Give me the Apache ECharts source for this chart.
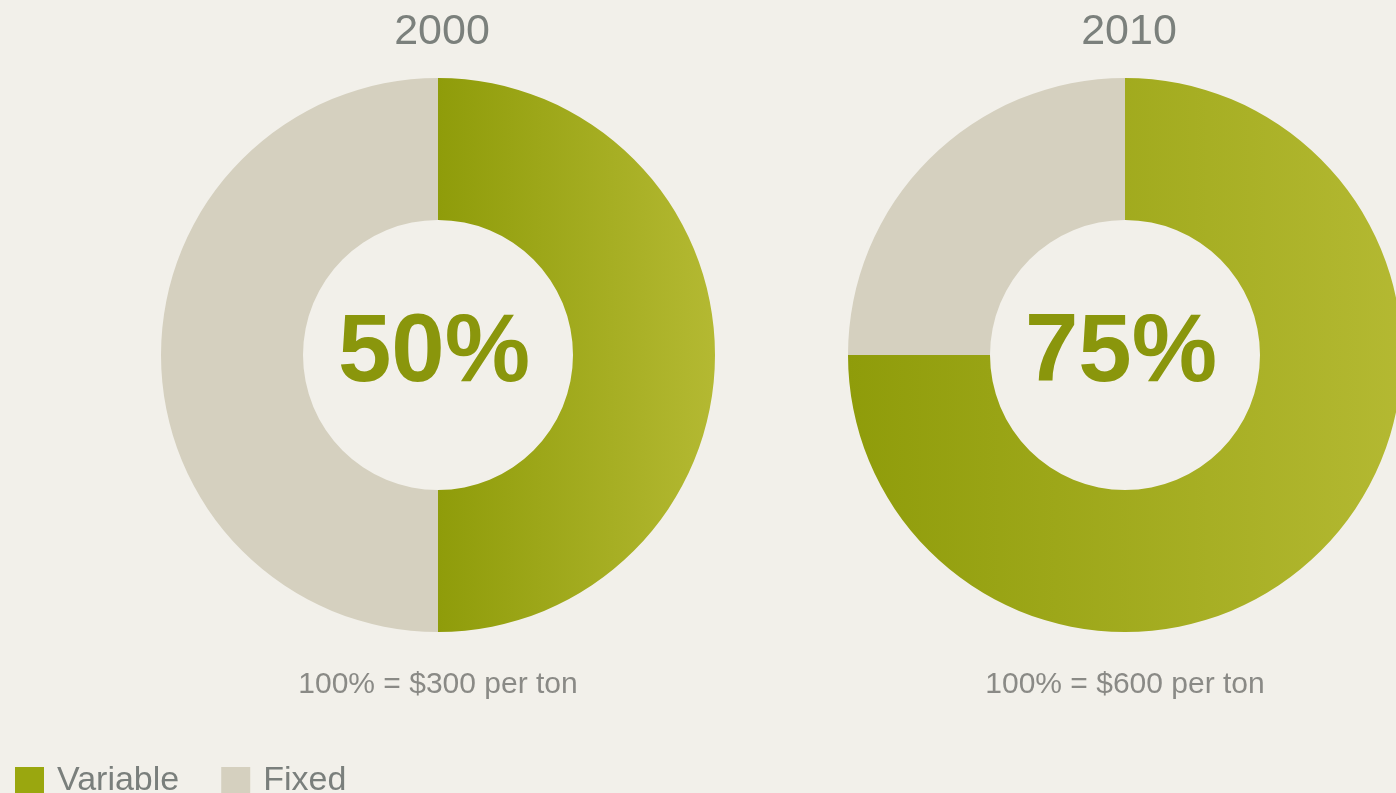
<!DOCTYPE html>
<html>
<head>
<meta charset="utf-8">
<script src="https://cdn.jsdelivr.net/npm/echarts@6/dist/echarts.min.js"></script>
<style>
html,body{margin:0;padding:0;background:#f2f0ea;}
#chart{width:1396px;height:793px;}
</style>
</head>
<body>
<div id="chart"></div>
<script>
const years = ['2000', '2010'];
const categories = ['Variable', 'Fixed'];
const variableShare = [50, 75];
const fixedShare = [50, 25];
const basisLabels = ['100% = $300 per ton', '100% = $600 per ton'];

const centers = [[438, 355], [1125, 355]];
const FONT = '"Liberation Sans", Arial, Helvetica, sans-serif';
const green = {
  type: 'linear', x: 0, y: 0, x2: 1, y2: 0,
  colorStops: [{offset: 0, color: '#8f9c0a'}, {offset: 1, color: '#b4b932'}]
};
const fixedColor = '#d5d0bf';

const chart = echarts.init(document.getElementById('chart'));

const series = years.map((y, i) => ({
  type: 'pie',
  name: y,
  center: centers[i],
  radius: [135, 277],
  startAngle: 90,
  clockwise: true,
  avoidLabelOverlap: false,
  emphasis: {disabled: true},
  label: {
    show: true,
    position: 'center',
    formatter: p => p.name === 'Variable' ? Math.round(p.percent) + '%' : '',
    fontFamily: FONT,
    fontWeight: 'bold',
    fontSize: 96,
    color: '#8a960c',
    offset: [-4, 0]
  },
  labelLine: {show: false},
  data: [
    {name: categories[0], value: variableShare[i], itemStyle: {color: green}},
    {name: categories[1], value: fixedShare[i], itemStyle: {color: fixedColor}}
  ]
}));

const graphics = [];
years.forEach((y, i) => {
  graphics.push({
    type: 'text', x: centers[i][0] + 4, y: 32,
    style: {text: y, fontFamily: FONT, fontSize: 43, fill: '#7b807c', textAlign: 'center', textVerticalAlign: 'middle'}
  });
  graphics.push({
    type: 'text', x: centers[i][0], y: 685,
    style: {text: basisLabels[i], fontFamily: FONT, fontSize: 30, fill: '#8a8a86', textAlign: 'center', textVerticalAlign: 'middle'}
  });
});

chart.setOption({
  backgroundColor: '#f2f0ea',
  animation: false,
  legend: {
    left: 15, top: 764, padding: 0,
    itemWidth: 29, itemHeight: 28, itemGap: 42,
    icon: 'rect',
    textStyle: {fontFamily: FONT, fontSize: 34, color: '#7a7f7c', padding: [0, 0, 0, 8]},
    data: [
      {name: categories[0], itemStyle: {color: '#9aa70f'}},
      {name: categories[1], itemStyle: {color: fixedColor}}
    ]
  },
  graphic: graphics,
  series: series
});
</script>
</body>
</html>
